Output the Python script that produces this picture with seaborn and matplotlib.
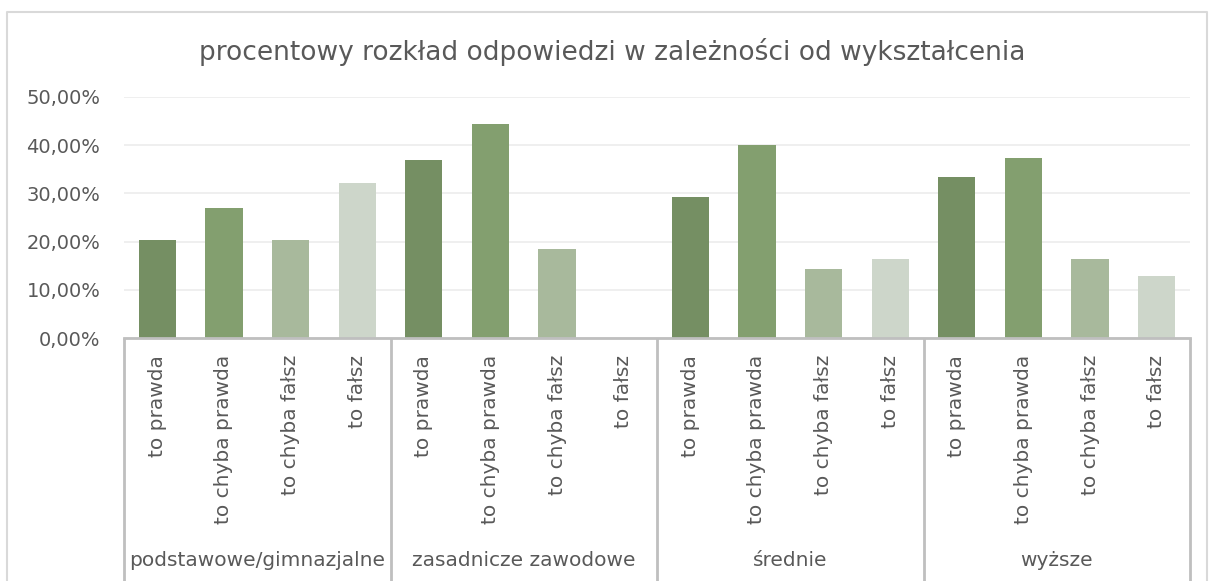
import pandas as pd
import matplotlib.pyplot as plt
import matplotlib.transforms as mtransforms
from matplotlib.ticker import FuncFormatter
import seaborn as sns

# dane (procenty)
grupy = ['podstawowe/gimnazjalne', 'zasadnicze zawodowe', 'średnie', 'wyższe']
odpowiedzi = ['to prawda', 'to chyba prawda', 'to chyba fałsz', 'to fałsz']
podstawowe = [20.4, 27.0, 20.4, 32.2]
zasadnicze = [37.0, 44.4, 18.5, 0.0]
srednie = [29.3, 40.0, 14.4, 16.4]
wyzsze = [33.3, 37.4, 16.4, 12.9]
kolory = ['#758f63', '#839f6f', '#a8b99c', '#cdd6ca']

TEXT = '#595959'


def main():
    wartosci = [podstawowe, zasadnicze, srednie, wyzsze]
    rows = []
    for g, vals in zip(grupy, wartosci):
        for o, v in zip(odpowiedzi, vals):
            rows.append({'klucz': g + '|' + o, 'grupa': g, 'odpowiedz': o, 'procent': v})
    df = pd.DataFrame(rows)

    sns.set_style('white')
    plt.rcParams['font.family'] = ['DejaVu Sans']

    fig = plt.figure(figsize=(12.1, 5.81), dpi=100)
    ax = fig.add_axes([124 / 1210, 1 - 338 / 581, (1190 - 124) / 1210, (338 - 97) / 581])

    sns.barplot(data=df, x='klucz', y='procent', hue='odpowiedz',
                order=df['klucz'].tolist(), hue_order=odpowiedzi,
                palette=dict(zip(odpowiedzi, kolory)), dodge=False,
                width=0.56, saturation=1, legend=False, linewidth=0,
                edgecolor='none', ax=ax)

    ax.set_ylim(0, 50)
    ax.set_xlim(-0.5, len(df) - 0.5)
    ax.set_yticks([0, 10, 20, 30, 40, 50])
    ax.yaxis.set_major_formatter(FuncFormatter(lambda v, p: f'{v:.2f}%'.replace('.', ',')))
    ax.grid(axis='y', color='#ececec', linewidth=1.2)
    ax.set_axisbelow(True)
    for s in ['top', 'right', 'left']:
        ax.spines[s].set_visible(False)
    ax.spines['bottom'].set_color('#bfbfbf')
    ax.spines['bottom'].set_linewidth(2)
    ax.set_xlabel('')
    ax.set_ylabel('')

    ax.set_xticks(range(len(df)))
    ax.set_xticklabels(df['odpowiedz'], rotation=90, va='top', ha='center')
    ax.tick_params(axis='x', length=0, pad=12, labelsize=14.5, labelcolor=TEXT)
    ax.tick_params(axis='y', length=0, pad=17, labelsize=14, labelcolor=TEXT)

    # wielopoziomowa oś kategorii
    tr = mtransforms.blended_transform_factory(ax.transData, fig.transFigure)
    y0 = 1 - 338 / 581
    for xb in [-0.5, 3.5, 7.5, 11.5, 15.5]:
        ax.plot([xb, xb], [y0, 0], transform=tr, color='#bfbfbf', lw=2,
                clip_on=False, solid_capstyle='butt')
    for i, g in enumerate(grupy):
        fig.text(i * 4 + 1.5, 1 - 560 / 581, g, transform=tr, ha='center', va='center',
                 fontsize=14.5, color=TEXT)

    fig.text(0.506, 1 - 52 / 581, 'procentowy rozkład odpowiedzi w zależności od wykształcenia',
             ha='center', va='center', fontsize=19, color=TEXT)

    # ramka obszaru wykresu
    fig.add_artist(plt.Line2D([7 / 1210, 7 / 1210, 1207 / 1210, 1207 / 1210],
                              [0, 1 - 12 / 581, 1 - 12 / 581, 0],
                              transform=fig.transFigure, color='#d9d9d9', lw=1.5))

    fig.savefig('out.png', dpi=100, facecolor='white')


if __name__ == '__main__':
    main()
